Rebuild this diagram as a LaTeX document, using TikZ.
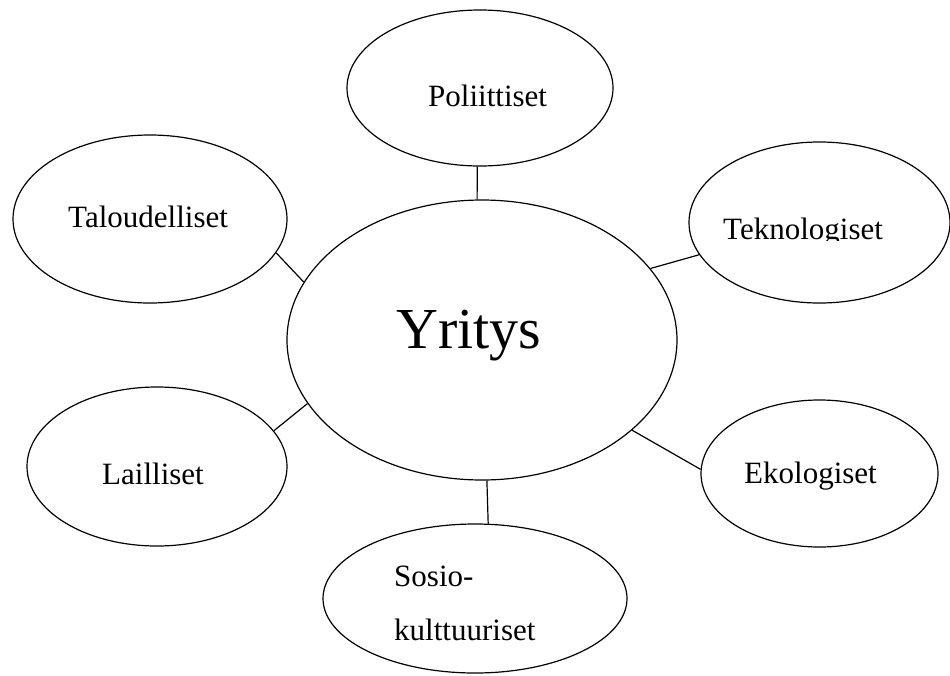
\documentclass[tikz,border=0pt]{standalone}
\usepackage{fontspec}
\setmainfont{Liberation Serif}
\usetikzlibrary{shapes.geometric}
\begin{document}
\begin{tikzpicture}[x=1pt,y=-1pt,
  oval/.style={draw=black, line width=1.2pt, ellipse, inner sep=0pt, fill=white},
  lbl/.style={anchor=base west, inner sep=0pt, font=\fontsize{31}{36}\selectfont},
  conn/.style={draw=black, line width=1.2pt}]
\useasboundingbox (0,0) rectangle (950,675);
% ellipses
\node[oval, minimum width=390pt, minimum height=280pt] (yr) at (482,340) {};
\node[oval, minimum width=266pt, minimum height=156pt] (pol) at (480,88) {};
\node[oval, minimum width=274pt, minimum height=168pt] (tal) at (150,219) {};
\node[oval, minimum width=261pt, minimum height=161pt] (tek) at (819.5,222.5) {};
\node[oval, minimum width=260pt, minimum height=159pt] (lai) at (157,466.5) {};
\node[oval, minimum width=237pt, minimum height=147pt] (eko) at (819.5,473.5) {};
\node[oval, minimum width=304pt, minimum height=149pt] (sos) at (475,598.5) {};
% connectors
\draw[conn] (pol.-92.9) -- (yr.92);
\draw[conn] (tal.-15.5) -- (yr.162.3);
\draw[conn] (tek.-165.6) -- (yr.23.4);
\draw[conn] (lai.17.5) -- (yr.-160.6);
\draw[conn] (eko.178.3) -- (yr.-31.9);
\draw[conn] (sos.80.9) -- (yr.-88);
% labels
\node[anchor=base west, inner sep=0pt, font=\fontsize{58}{64}\selectfont] (tyr) at (396,348) {Yritys};
\node[lbl] (tpol) at (428,106) {Poliittiset};
\node[lbl] (ttal) at (68,227) {Taloudelliset};
\begin{scope}
\clip (690,150) rectangle (950,240.5);
\node[lbl] (ttek) at (723,239) {Teknologiset};
\end{scope}
\node[lbl] (tlai) at (102,484) {Lailliset};
\node[lbl] (teko) at (744,483) {Ekologiset};
\node[lbl] (tsos1) at (394,586) {Sosio-};
\node[lbl] (tsos2) at (394,640) {kulttuuriset};
\end{tikzpicture}
\end{document}
